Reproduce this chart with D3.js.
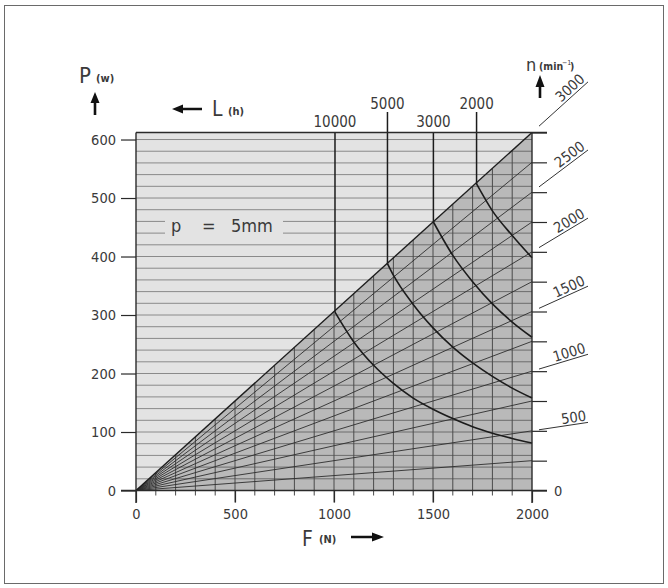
<!DOCTYPE html>
<html><head><meta charset="utf-8">
<script src="https://cdn.jsdelivr.net/npm/d3@7"></script>
<style>body{margin:0;background:#fff}svg{display:block}</style>
</head><body>
<svg id="c" width="668" height="588"></svg>
<script>
// ---- data ----
const powerTicks = [0, 100, 200, 300, 400, 500, 600];
const powerGrid = [20,40,60,80,100,120,140,160,180,200,220,240,260,280,300,320,340,360,380,400,420,440,460,480,500,520,540,560,580,600];
const forceTicks = [0, 500, 1000, 1500, 2000];
const forceGrid = [100,200,300,400,500,600,700,800,900,1000,1100,1200,1300,1400,1500,1600,1700,1800,1900];
const speedTicks = [0, 250, 500, 750, 1000, 1250, 1500, 1750, 2000, 2250, 2500, 2750, 3000];
const speedLabels = [500, 1000, 1500, 2000, 2500, 3000];
const powerMax = 612;      // P at F = 2000 N for n = 3000 min^-1
const forceMax = 2000;
const speedMax = 3000;
const lifeHours = [10000, 5000, 3000, 2000];
const lifeForce = [
  [1005, 1100, 1200, 1300, 1400, 1500, 1600, 1700, 1800, 1900, 2000],
  [1270, 1300, 1400, 1500, 1600, 1700, 1800, 1900, 2000],
  [1502, 1600, 1700, 1800, 1900, 2000],
  [1720, 1800, 1900, 2000]
];
const lifePower = [
  [305, 254, 214, 183, 158, 139, 123, 109, 98, 89, 81],
  [388, 368, 318, 278, 245, 218, 195, 175, 158],
  [459, 402, 357, 319, 288, 262],
  [524, 478, 436, 398]
];

// ---- drawing ----
const svg = d3.select('#c');
const FONT = '"DejaVu Sans Condensed", "DejaVu Sans", sans-serif';
const TXT = '#3a3a3a';
const LIGHT = '#e3e3e3', DARK = '#b9b9b9';

svg.append('rect').attr('x', 4.5).attr('y', 5.5).attr('width', 659).attr('height', 578)
  .attr('fill', 'none').attr('stroke', '#6a6a6a').attr('stroke-width', 1);

const x = d3.scaleLinear().domain([0, forceMax]).range([136, 532]);
const y = d3.scaleLinear().domain([0, powerMax]).range([490.5, 132.5]);
const yn = d3.scaleLinear().domain([0, speedMax]).range([490.5, 132.5]);
const diagP = F => powerMax * F / forceMax;

// backgrounds
svg.append('rect').attr('x', x(0)).attr('y', y(powerMax))
  .attr('width', x(forceMax) - x(0)).attr('height', y(0) - y(powerMax)).attr('fill', LIGHT);
svg.append('path')
  .attr('d', `M${x(0)},${y(0)}L${x(forceMax)},${y(0)}L${x(forceMax)},${y(powerMax)}Z`)
  .attr('fill', DARK);

// horizontal grid
const hg = svg.append('g');
powerGrid.forEach(P => {
  const Fd = P * forceMax / powerMax;
  hg.append('line').attr('x1', x(0)).attr('x2', x(Fd)).attr('y1', y(P)).attr('y2', y(P))
    .attr('stroke', '#8a8a8a').attr('stroke-width', 1);
  hg.append('line').attr('x1', x(Fd)).attr('x2', x(forceMax)).attr('y1', y(P)).attr('y2', y(P))
    .attr('stroke', '#6c6c6c').attr('stroke-width', 1);
});

// text box for p = 5mm
svg.append('rect').attr('x', 165).attr('y', 215).attr('width', 118).attr('height', 21).attr('fill', LIGHT);
function ptxt(s, xx) {
  svg.append('text').attr('x', xx).attr('y', 232).attr('font-family', FONT).attr('font-size', 18)
    .attr('fill', TXT).text(s);
}
ptxt('p', 171); ptxt('=', 202); ptxt('5mm', 231);

// vertical grid (only in dark region) + bottom ticks
const vg = svg.append('g');
forceGrid.forEach(F => {
  vg.append('line').attr('x1', x(F)).attr('x2', x(F))
    .attr('y1', y(0) + (F % 500 === 0 ? 12 : 5)).attr('y2', y(diagP(F)))
    .attr('stroke', '#4a4a4a').attr('stroke-width', 1);
});

// fan lines (speed)
const fg = svg.append('g');
speedTicks.filter(n => n > 0).forEach(n => {
  fg.append('line').attr('x1', x(0)).attr('y1', y(0)).attr('x2', x(forceMax)).attr('y2', yn(n))
    .attr('stroke', n === speedMax ? '#1e1e1e' : '#2e2e2e').attr('stroke-width', n === speedMax ? 1.4 : 0.9);
});

// leaders and rotated speed labels
const lg = svg.append('g');
speedLabels.forEach(n => {
  const x0 = x(0), y0 = y(0);
  const slope = (yn(n) - y0) / (x(forceMax) - x0);
  const xs = x(forceMax) + 7, xe = x(forceMax) + 56;
  const ys = y0 + slope * (xs - x0), ye = y0 + slope * (xe - x0);
  lg.append('line').attr('x1', xs).attr('y1', ys).attr('x2', xe).attr('y2', ye)
    .attr('stroke', '#333').attr('stroke-width', 1);
  const ang = Math.atan2(ye - ys, xe - xs) * 180 / Math.PI;
  lg.append('text')
    .attr('transform', `translate(${xe - 1},${ye}) rotate(${ang})`)
    .attr('y', -2).attr('text-anchor', 'end')
    .attr('font-family', FONT).attr('font-size', 14.5).attr('fill', TXT).text(n);
});

// life curves
const line = d3.line().x(d => x(d[0])).y(d => y(d[1])).curve(d3.curveMonotoneX);
lifeHours.forEach((L, i) => {
  const pts = lifeForce[i].map((F, j) => [F, lifePower[i][j]]);
  svg.append('path').attr('d', line(pts)).attr('fill', 'none')
    .attr('stroke', '#1c1c1c').attr('stroke-width', 1.6);
  const F0 = lifeForce[i][0], P0 = lifePower[i][0];
  const high = i % 2 === 1;
  svg.append('line').attr('x1', x(F0)).attr('x2', x(F0))
    .attr('y1', high ? 112 : y(powerMax)).attr('y2', y(P0))
    .attr('stroke', '#1c1c1c').attr('stroke-width', 1.5);
  svg.append('text').attr('x', x(F0)).attr('y', high ? 109 : 127)
    .attr('text-anchor', 'middle').attr('font-family', FONT).attr('font-size', 15)
    .attr('fill', TXT).text(L);
});

// frame lines
const ax = svg.append('g').attr('stroke', '#2a2a2a').attr('stroke-width', 1.4);
ax.append('line').attr('x1', x(0)).attr('x2', x(0)).attr('y1', y(powerMax)).attr('y2', 503);
ax.append('line').attr('x1', x(forceMax)).attr('x2', x(forceMax)).attr('y1', y(powerMax)).attr('y2', 503);
ax.append('line').attr('x1', x(0)).attr('x2', 547).attr('y1', y(powerMax)).attr('y2', y(powerMax));
ax.append('line').attr('x1', 121).attr('x2', 547).attr('y1', y(0)).attr('y2', y(0));

// axes
function styleAxis(g) {
  g.select('.domain').remove();
  g.selectAll('.tick line').attr('stroke', '#2a2a2a').attr('stroke-width', 1.2);
  g.selectAll('.tick text').attr('font-family', FONT).attr('font-size', 14.5).attr('fill', TXT);
}
svg.append('g').attr('transform', `translate(${x(0)},0)`)
  .call(d3.axisLeft(y).tickValues(powerTicks).tickSize(15).tickPadding(5).tickFormat(d3.format('d')))
  .call(styleAxis);
svg.append('g').attr('transform', `translate(0,${y(0)})`)
  .call(d3.axisBottom(x).tickValues(forceTicks).tickSize(12).tickPadding(6).tickFormat(d3.format('d')))
  .call(styleAxis);
svg.append('g').attr('transform', `translate(${x(forceMax)},0)`)
  .call(d3.axisRight(yn).tickValues(speedTicks).tickSize(15).tickPadding(7)
    .tickFormat(d => d === 0 ? '0' : '')).call(styleAxis);

// axis titles and arrows
function txt(s, xx, yy, size) {
  return svg.append('text').attr('x', xx).attr('y', yy).attr('font-family', FONT)
    .attr('font-size', size).attr('fill', TXT).text(s);
}
txt('P', 79, 83, 22);
txt('(w)', 96, 82, 11).attr('font-weight', 'bold');
svg.append('path').attr('d', 'M95,92 L99.5,103 L96.3,103 L96.3,115 L93.7,115 L93.7,103 L90.5,103 Z').attr('fill', '#111');

txt('L', 212, 116, 21);
txt('(h)', 228, 115, 11).attr('font-weight', 'bold');
svg.append('path').attr('d', 'M172,109 L183,104.5 L183,107.7 L202,107.7 L202,110.3 L183,110.3 L183,113.5 Z').attr('fill', '#111');

txt('n', 526, 71, 18);
txt('(min', 539, 70, 10.5).attr('font-weight', 'bold');
txt('−1', 562, 65, 7);
txt(')', 570, 70, 10.5).attr('font-weight', 'bold');
svg.append('path').attr('d', 'M540,75 L544.5,87 L541.3,87 L541.3,98 L538.7,98 L538.7,87 L535.5,87 Z').attr('fill', '#111');

txt('F', 302, 546, 21);
txt('(N)', 319, 543, 11).attr('font-weight', 'bold');
svg.append('path').attr('d', 'M384,537 L372,541.5 L372,538.3 L351,538.3 L351,535.7 L372,535.7 L372,532.5 Z').attr('fill', '#111');
</script>
</body></html>
